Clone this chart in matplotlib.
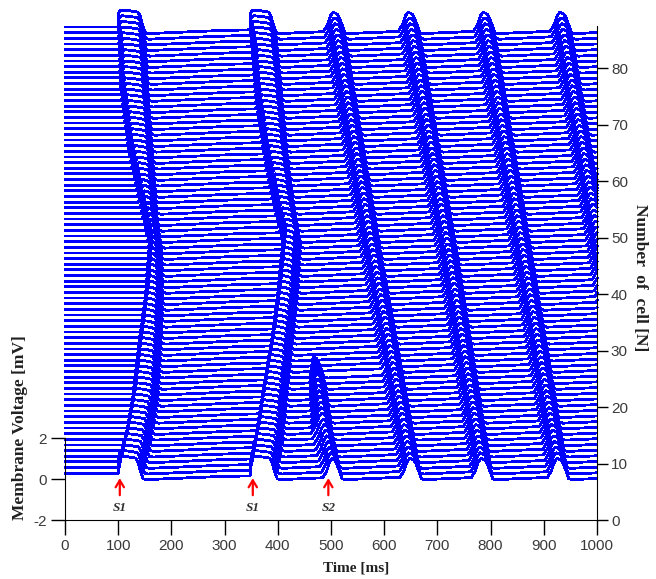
import numpy as np
import matplotlib
matplotlib.use("Agg")
import matplotlib.pyplot as plt

plt.rcParams["axes.unicode_minus"] = False

# ---------------- values ----------------
n_cells = 80                 # number of traces (bottom trace = cell index 0)
baseline0 = 8.3              # rest level of the bottom trace on the cell axis
time_ms = np.arange(0, 1000.5, 0.5)

# S1 wave 1 (stimulus at t = 100 ms): activation / repolarisation per cell
w1_cells = [0, 4, 13, 22, 31, 40, 45, 57, 68, 79]
w1_act = [100, 109, 126, 137, 150, 157, 145, 118, 103, 100]
w1_rep = [141, 152, 169, 175, 179, 177, 169, 160, 151, 145]
# S1 wave 2 (stimulus at t = 350 ms)
w2_cells = [0, 6, 15, 24, 32, 41, 48, 57, 66, 79]
w2_act = [348, 357, 372, 388, 399, 408, 390, 372, 358, 348]
w2_rep = [393, 404, 413, 423, 432, 438, 425, 413, 404, 391]
# upstroke rise time of the S1 waves (sharp next to the stimulus site)
s1_rise_cells = [0, 6, 73, 79]
s1_rise = [1, 9, 9, 1]
# local S2 response (cells 0..18)
s2_cells = [0, 8, 14, 18]
s2_act = [485, 462, 460, 460]
s2_peak = [502, 483, 474, 467]
s2_rep = [515, 497, 488, 481]
# re-entrant waves running from the top cell to the bottom cell: peak times
re_cells = [0, 40, 79]
re_peaks = [[648, 572, 504], [782, 715, 645], [925, 855, 786], [1070, 1000, 930]]
re_rise = 18
re_fall = 16

amp_s1 = 3.0
amp_re = 2.6
amp_s2 = 2.6

# recovery after repolarisation (ms after repolarisation, level in cell units)
rec_dt = [0, 6, 12, 60, 150, 300, 500]
rec_v = [0.6, -1.0, -1.15, -0.95, -0.6, -0.3, -0.1]

# stimulus markers
stim_times = [103, 353, 495]
stim_labels = ["S1", "S1", "S2"]

x_ticks = list(range(0, 1001, 100))
cell_ticks = list(range(0, 81, 10))
volt_ticks = [-2, 0, 2]


def trace(i):
    events = []
    rs = np.interp(i, s1_rise_cells, s1_rise)
    for cells, act, rep in ((w1_cells, w1_act, w1_rep), (w2_cells, w2_act, w2_rep)):
        a = np.interp(i, cells, act)
        r = np.interp(i, cells, rep)
        events.append((a, a + rs, r, amp_s1, rs < 3))
    if i <= s2_cells[-1]:
        events.append((np.interp(i, s2_cells, s2_act), np.interp(i, s2_cells, s2_peak),
                       np.interp(i, s2_cells, s2_rep), amp_s2, False))
    for pk in re_peaks:
        p = np.interp(i, re_cells, pk)
        events.append((p - re_rise, p, p + re_fall, amp_re, False))
    events.sort()
    kt = [0.0]
    kv = [0.0]
    for act, peak, rep, amp, sharp in events:
        b = float(np.interp(act, kt, kv))
        keep = [k for k in range(len(kt)) if kt[k] < act]
        kt = [kt[k] for k in keep]
        kv = [kv[k] for k in keep]
        kt.append(act)
        kv.append(b)
        if sharp:
            kt += [act + 0.3, act + 3]
            kv += [b + 0.82 * (amp - b), b + 0.95 * (amp - b)]
            peak = act + 7
        else:
            r = peak - act
            kt += [act + 0.4 * r, act + 0.75 * r]
            kv += [b + 0.35 * (amp - b), b + 0.85 * (amp - b)]
        kt.append(peak)
        kv.append(amp)
        t_pl = max(rep - 8, peak + 1)
        kt += [peak + 0.45 * (t_pl - peak), t_pl, max(rep - 4, t_pl + 0.5)]
        kv += [amp - 0.1, amp - 0.35, amp - 1.0]
        for dt, v in zip(rec_dt, rec_v):
            kt.append(max(rep + dt, kt[-1] + 0.5))
            kv.append(v)
    kt.append(5000)
    kv.append(0.0)
    return np.interp(time_ms, kt, kv)


W, H = 656, 579
fig = plt.figure(figsize=(W / 100, H / 100), dpi=100)
x0, x1, y_bot, y_top = 65, 597, 520, 9
ax = fig.add_axes([x0 / W, (H - y_bot) / H, (x1 - x0) / W, (y_bot - y_top) / H])
cell_top = 90.5
ax.set_xlim(0, 1000)
ax.set_ylim(0, cell_top)

for i in range(n_cells):
    ax.plot(time_ms, baseline0 + i + trace(i), color="#0000ff", lw=1.3,
            clip_on=False, antialiased=False)

tick_font = ["Liberation Sans Narrow", "Liberation Sans", "DejaVu Sans"]
tcol = "#3a3a3a"

# left voltage axis (twin)
mv_scale = 14.5 / 4.0   # cell units per mV
ax2 = ax.twinx()
ax2.set_ylim(-2, -2 + cell_top / mv_scale)
ax2.yaxis.set_ticks_position("left")
ax2.yaxis.set_label_position("left")
for s in ("top", "right", "bottom"):
    ax2.spines[s].set_visible(False)
ax2.spines["left"].set_visible(True)
ax2.spines["left"].set_bounds(-2, 2)
ax2.set_yticks(volt_ticks)
ax2.tick_params(axis="y", which="both", left=True, right=False, labelleft=True, labelright=False,
                direction="out", length=10, width=1, colors="black", labelcolor=tcol, pad=3)
for lab in ax2.get_yticklabels():
    lab.set_family(tick_font)
    lab.set_fontsize(11)

# right cell axis on the main axes
ax.yaxis.set_ticks_position("right")
ax.tick_params(axis="y", which="both", left=False, right=True, labelleft=False, labelright=True)
ax.spines["top"].set_visible(False)
ax.spines["left"].set_visible(False)
ax.spines["right"].set_bounds(0, 87.5)
ax.set_xticks(x_ticks)
ax.set_yticks(cell_ticks)
ax.tick_params(axis="x", direction="out", length=11, width=1, colors="black", labelcolor=tcol, pad=3)
ax.tick_params(axis="y", direction="out", length=8, width=1, colors="black", labelcolor=tcol, pad=2)
for lab in ax.get_xticklabels() + ax.get_yticklabels():
    lab.set_family(tick_font)
    lab.set_fontsize(11)

# stimulus arrows
for t, lab in zip(stim_times, stim_labels):
    ax.annotate("", xy=(t, 7.9), xytext=(t, 3.9),
                arrowprops=dict(arrowstyle="->,head_length=0.5,head_width=0.3", color="#ff0000", lw=1.6),
                annotation_clip=False)
    ax.text(t, 2.1, lab, ha="center", va="center", fontsize=9.5, style="italic", weight="bold",
            family=["Liberation Serif", "DejaVu Serif"], color="#303030")

serif = ["Liberation Serif", "DejaVu Serif"]
fig.text(356 / W, 1 - 568 / H, "Time [ms]", ha="center", va="center", fontsize=11,
         weight="bold", family=serif, color="#202020")
fig.text(20 / W, 1 - 428 / H, "Membrane Voltage [mV]", ha="center", va="center", fontsize=12.5,
         weight="bold", family=serif, rotation=90, color="#202020")
fig.text(640 / W, 1 - 278 / H, "Number  of  cell [N]", ha="center", va="center", fontsize=12.5,
         weight="bold", family=serif, rotation=-90, color="#202020")

fig.savefig("out.png", dpi=100)
